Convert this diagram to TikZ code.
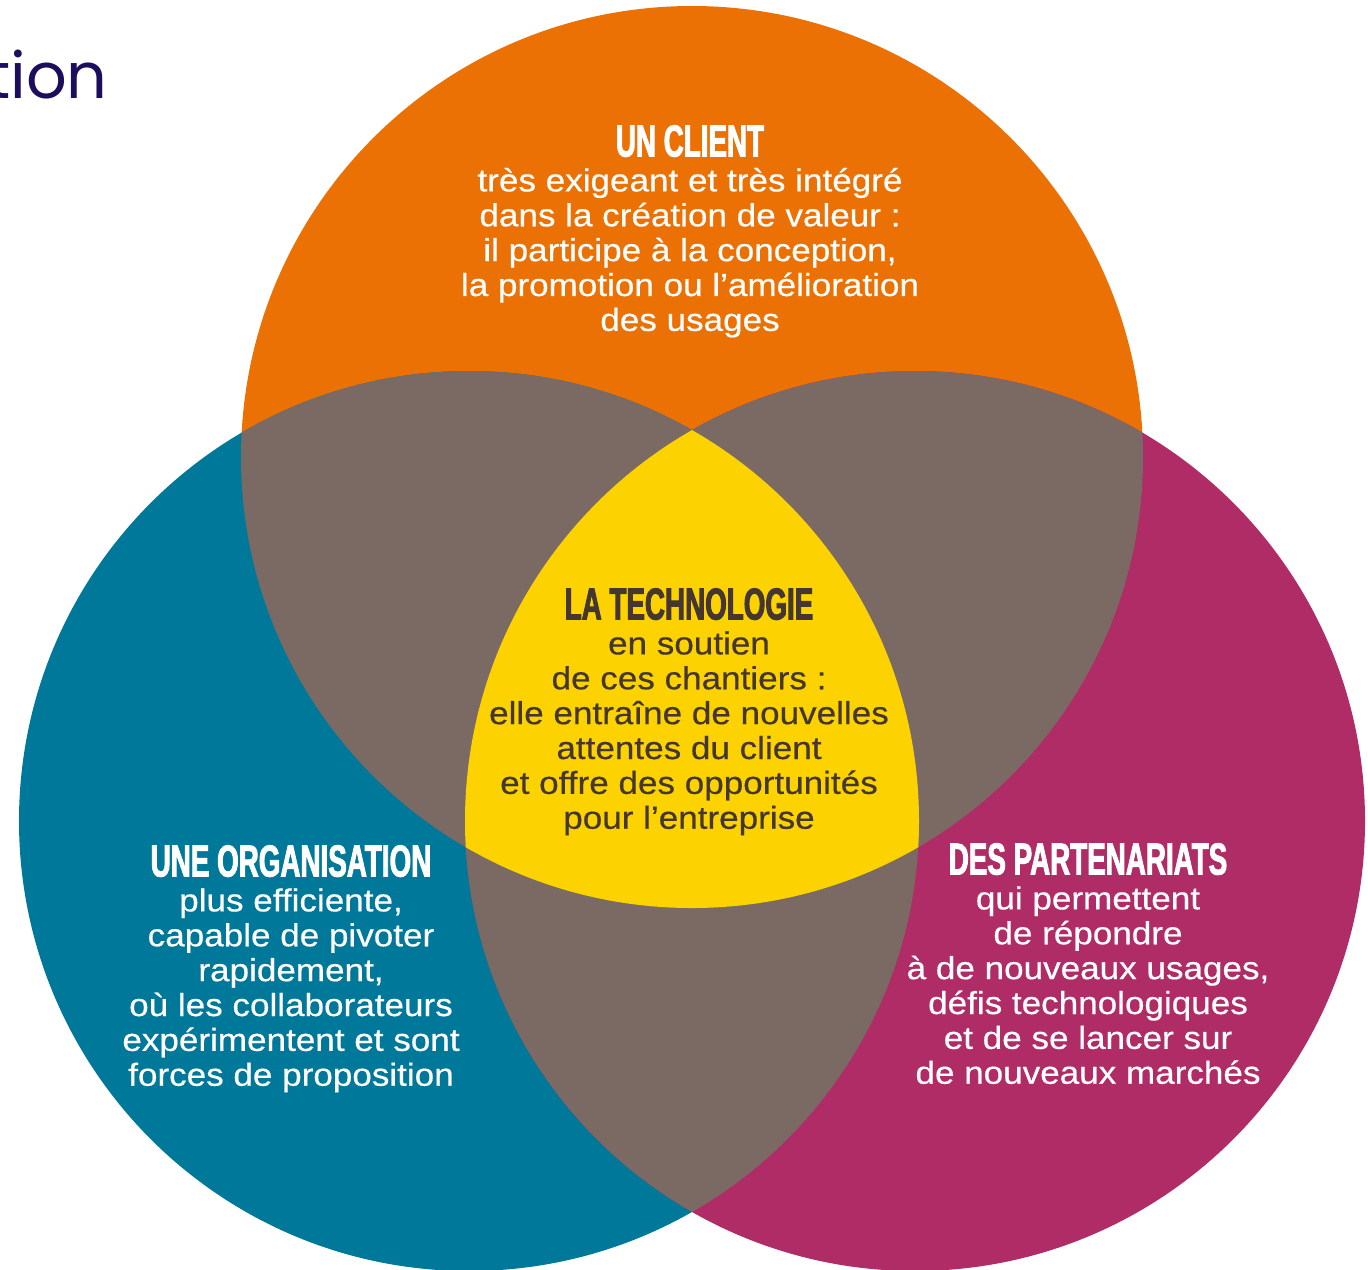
\documentclass[tikz,border=0pt]{standalone}
\usepackage{fontspec}
\setmainfont{Liberation Sans}
\newfontfamily\bodyfont[FakeStretch=1.1,FakeBold=0.5]{Liberation Sans}
\newfontfamily\headfont[FakeStretch=0.62,FakeBold=2]{Liberation Sans Bold}
\newfontfamily\titlefont{Poppins}
\definecolor{corange}{HTML}{EC7105}
\definecolor{cteal}{HTML}{00789A}
\definecolor{cmagenta}{HTML}{B02C66}
\definecolor{cbrown}{HTML}{7A6A63}
\definecolor{cyellow}{HTML}{FCD300}
\definecolor{ctitle}{HTML}{1C0E5C}
\definecolor{cdark}{HTML}{45372F}
\tikzset{
  txtblock/.style={align=center, inner sep=0pt, anchor=north,
    font=\bodyfont\fontsize{32}{35}\selectfont},
}
\newcommand{\hdtxt}[1]{{\headfont\fontsize{45}{35}\selectfont #1}}
\begin{document}
\begin{tikzpicture}[x=1bp,y=-1bp]
\useasboundingbox (0,0) rectangle (1368,1269);
% base circles
\fill[corange] (692,457) circle[radius=451bp];
\fill[cteal] (469,821) circle[radius=450bp];
\fill[cmagenta] (915,821) circle[radius=450bp];
% pairwise intersections
\begin{scope}
  \clip (692,457) circle[radius=451bp];
  \fill[cbrown] (469,821) circle[radius=450bp];
  \fill[cbrown] (915,821) circle[radius=450bp];
\end{scope}
\begin{scope}
  \clip (469,821) circle[radius=450bp];
  \fill[cbrown] (915,821) circle[radius=450bp];
\end{scope}
% triple intersection
\begin{scope}
  \clip (692,457) circle[radius=451bp];
  \clip (469,821) circle[radius=450bp];
  \fill[cyellow] (915,821) circle[radius=450bp];
\end{scope}
% cropped title
\node[anchor=base east, inner sep=0pt, text=ctitle,
  font=\titlefont\fontsize{64}{70}\selectfont] (title) at (108,98) {tion};
% texts
\node[txtblock, text=white] (client) at (690,125) {\hdtxt{UN CLIENT}\\
très exigeant et très intégré\\
dans la création de valeur :\\
il participe à la conception,\\
la promotion ou l’amélioration\\
des usages};
\node[txtblock, text=cdark] (techno) at (689,588) {\hdtxt{LA TECHNOLOGIE}\\
en soutien\\
de ces chantiers :\\
elle entraîne de nouvelles\\
attentes du client\\
et offre des opportunités\\
pour l’entreprise};
\node[txtblock, text=white] (orga) at (291,845) {\hdtxt{UNE ORGANISATION}\\
plus efficiente,\\
capable de pivoter\\
rapidement,\\
où les collaborateurs\\
expérimentent et sont\\
forces de proposition};
\node[txtblock, text=white] (parten) at (1088,843) {\hdtxt{DES PARTENARIATS}\\
qui permettent\\
de répondre\\
à de nouveaux usages,\\
défis technologiques\\
et de se lancer sur\\
de nouveaux marchés};
\end{tikzpicture}
\end{document}
